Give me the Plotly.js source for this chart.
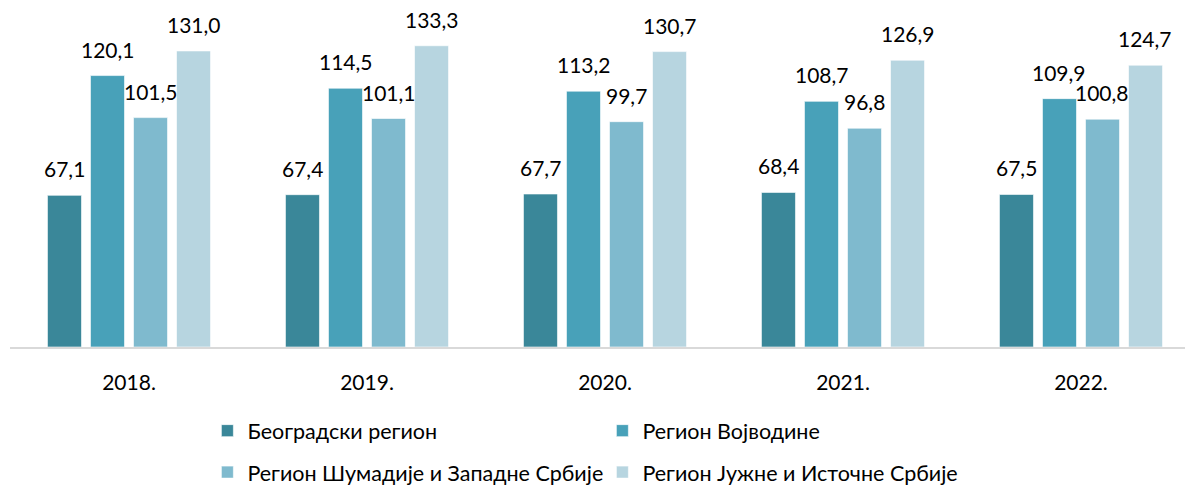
<!DOCTYPE html>
<html><head><meta charset="utf-8">
<script src="https://cdn.plot.ly/plotly-3.0.1.min.js"></script>
<style>html,body{margin:0;padding:0;background:#fff}</style>
</head><body><div id="chart" style="width:1185px;height:488px"></div>
<script>
const years = ["2018.", "2019.", "2020.", "2021.", "2022."];
const seriesNames = ["Београдски регион", "Регион Војводине", "Регион Шумадије и Западне Србије", "Регион Јужне и Источне Србије"];
const beograd = [67.1, 67.4, 67.7, 68.4, 67.5];
const vojvodina = [120.1, 114.5, 113.2, 108.7, 109.9];
const sumadija = [101.5, 101.1, 99.7, 96.8, 100.8];
const jug = [131.0, 133.3, 130.7, 126.9, 124.7];
const allSeries = [beograd, vojvodina, sumadija, jug];
const colors = ["#3a8799", "#48a1b9", "#7fbace", "#b7d5e0"];
const FONT = "Lato, 'Open Sans', sans-serif";

const fmt = v => v.toFixed(1).replace(".", ",");
const traces = allSeries.map((vals, i) => ({
  type: "bar", x: years, y: vals, name: seriesNames[i],
  marker: {color: colors[i], line: {color: "rgba(255,255,255,0.6)", width: 1}},
  legend: i < 2 ? "legend" : "legend2",
  hoverinfo: "none"
}));
const pitch = 43;
const annotations = [];
allSeries.forEach((vals, i) => {
  vals.forEach((v, j) => {
    annotations.push({x: j, y: v, xref: "x", yref: "y", text: fmt(v),
      showarrow: false, yanchor: "bottom", xanchor: "center",
      xshift: (i - 1.5) * pitch, yshift: 12,
      font: {family: FONT, size: 21, color: "#000"}});
  });
});
const legendCommon = {orientation: "h", xref: "container", yref: "container", xanchor: "left", yanchor: "top",
  entrywidth: 350, entrywidthmode: "pixels", itemwidth: 30, font: {family: FONT, size: 21.5, color: "#000"}};
const layout = {
  width: 1185, height: 488,
  margin: {l: 10, r: 0, t: 8, b: 141},
  paper_bgcolor: "#fff", plot_bgcolor: "#fff",
  barmode: "group", bargap: 0.277, bargroupgap: 0.209,
  font: {family: FONT, size: 20, color: "#000"},
  xaxis: {type: "category", range: [-0.5, 4.437], showline: true, linecolor: "#d9d9d9", linewidth: 2,
    ticks: "", tickfont: {family: FONT, size: 21, color: "#000"}, ticklabelstandoff: 16, fixedrange: true},
  yaxis: {range: [0, 150], visible: false, fixedrange: true},
  showlegend: true,
  legend: Object.assign({}, legendCommon, {x: 0.175, y: 0.1595}),
  legend2: Object.assign({}, legendCommon, {x: 0.175, y: 0.0745}),
  annotations: annotations
};
Plotly.newPlot("chart", traces, layout, {displayModeBar: false, staticPlot: true});
</script></body></html>
